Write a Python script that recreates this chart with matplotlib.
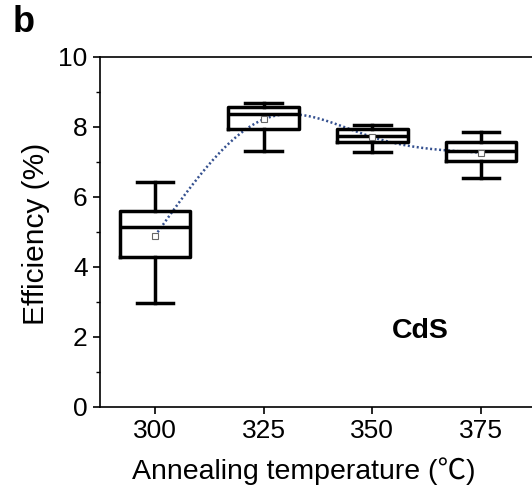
import numpy as np
import matplotlib
matplotlib.use("Agg")
import matplotlib.pyplot as plt

temps = [300, 325, 350, 375]
whisker_low = [2.96, 7.32, 7.28, 6.53]
q1 = [4.29, 7.94, 7.57, 7.04]
median = [5.13, 8.36, 7.75, 7.32]
q3 = [5.61, 8.56, 7.94, 7.58]
whisker_high = [6.44, 8.69, 8.06, 7.87]
means = [4.89, 8.22, 7.71, 7.27]


def natural_spline(x, y, xs):
    x = np.asarray(x, float); y = np.asarray(y, float)
    n = len(x)
    h = np.diff(x)
    A = np.zeros((n, n)); r = np.zeros(n)
    A[0, 0] = 1; A[-1, -1] = 1
    for i in range(1, n - 1):
        A[i, i - 1] = h[i - 1]; A[i, i] = 2 * (h[i - 1] + h[i]); A[i, i + 1] = h[i]
        r[i] = 6 * ((y[i + 1] - y[i]) / h[i] - (y[i] - y[i - 1]) / h[i - 1])
    M = np.linalg.solve(A, r)
    out = np.empty_like(xs)
    for k, t in enumerate(xs):
        i = min(max(np.searchsorted(x, t) - 1, 0), n - 2)
        a = x[i + 1] - t; b = t - x[i]
        out[k] = (M[i] * a**3 + M[i + 1] * b**3) / (6 * h[i]) + \
                 (y[i] / h[i] - M[i] * h[i] / 6) * a + (y[i + 1] / h[i] - M[i + 1] * h[i] / 6) * b
    return out


plt.rcParams['font.family'] = ['Liberation Sans', 'Noto Sans CJK SC', 'DejaVu Sans']

fig = plt.figure(figsize=(5.32, 4.99), dpi=100)
ax = fig.add_axes([0.188, 0.1844, 0.8195, 0.7014])

stats = []
for i in range(len(temps)):
    stats.append(dict(med=median[i], q1=q1[i], q3=q3[i], whislo=whisker_low[i],
                      whishi=whisker_high[i], mean=means[i], fliers=[]))

lw = 2.5
ax.bxp(stats, positions=temps, widths=16.3, showmeans=True, showfliers=False,
       manage_ticks=False, capwidths=8.4,
       boxprops=dict(color='black', linewidth=lw),
       medianprops=dict(color='black', linewidth=lw),
       whiskerprops=dict(color='black', linewidth=lw),
       capprops=dict(color='black', linewidth=lw),
       meanprops=dict(marker='s', markersize=4, markerfacecolor='white',
                      markeredgecolor='#666666', markeredgewidth=0.8))

xs = np.linspace(temps[0], temps[-1], 300)
ax.plot(xs, natural_spline(temps, means, xs), color='#34508f', lw=1.8,
        linestyle=(0, (0.8, 1.0)), zorder=1)

ax.set_xlim(287.35, 387.65)
ax.set_ylim(0, 10)
ax.set_xticks(temps)
ax.set_yticks([0, 2, 4, 6, 8, 10])
ax.set_yticks([1, 3, 5, 7, 9], minor=True)
ax.tick_params(axis='both', which='major', labelsize=19, direction='out', length=5, width=1.2, pad=4)
ax.tick_params(axis='y', which='minor', direction='out', length=3, width=1.0)
for s in ax.spines.values():
    s.set_linewidth(1.2)

ax.set_ylabel('Efficiency (%)', fontsize=21.5)
ax.yaxis.set_label_coords(-0.115, 0.495)
ax.set_xlabel('Annealing temperature (℃)', fontsize=20.5)
ax.xaxis.set_label_coords(0.468, -0.145)

ax.text(0.734, 0.217, 'CdS', transform=ax.transAxes, fontsize=20.5, fontweight='bold',
        ha='center', va='center')
fig.text(0.045, 0.99, 'b', fontsize=26, fontweight='bold', ha='center', va='top')

fig.savefig('out.png', dpi=100)
